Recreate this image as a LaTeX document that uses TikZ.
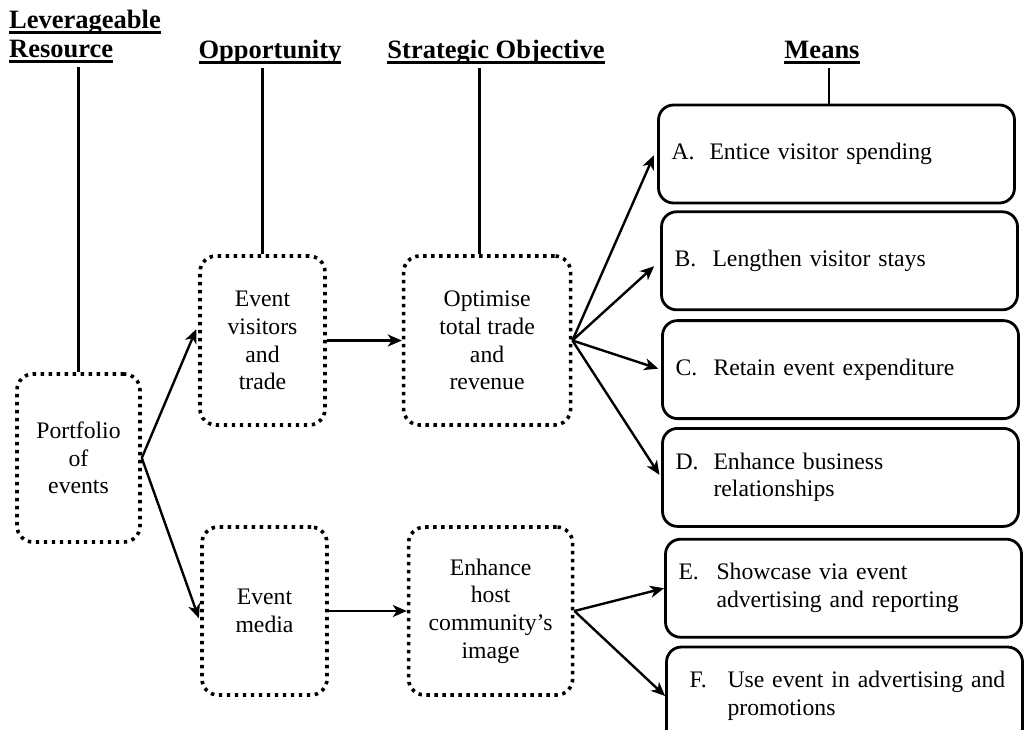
\documentclass[tikz,border=0pt]{standalone}
\usepackage{fontspec}
\setmainfont{Liberation Serif}
\usetikzlibrary{arrows.meta, positioning}
\newcommand{\diagfont}{\fontsize{23.7}{27.7}\selectfont}
\newcommand{\colheadfont}{\fontsize{26.5}{29}\selectfont\bfseries}
\newcommand{\colul}[1]{\setbox0\hbox{#1}\rlap{\copy0}\rule[-6pt]{\wd0}{2.8pt}}
\newcommand{\mitem}[2]{\makebox[38pt][l]{#1}\begin{tabular}[t]{@{}l@{}}#2\end{tabular}}
\tikzset{
  idea/.style    = {rectangle, rounded corners=16pt, draw, line width=3.6pt,
                    dash pattern=on 3.4pt off 4.6pt, align=center, font=\diagfont,
                    inner sep=2pt},
  means/.style   = {rectangle, rounded corners=15pt, draw, line width=2.8pt,
                    text width=330pt, inner xsep=13pt, minimum width=356pt,
                    minimum height=98pt, align=left, font=\diagfont},
  colhead/.style = {font=\colheadfont, inner sep=0pt, anchor=base},
  flow/.style    = {-{Stealth[length=14pt, width=12pt, inset=4pt]}, line width=2.4pt},
  stem/.style    = {line width=2.6pt, shorten <=4pt},
}
\begin{document}
\begin{tikzpicture}[x=1pt, y=-1pt]
  \useasboundingbox (0,0) rectangle (1024,729);
  % column headings
  \node[colhead, anchor=base west] (hlev) at (9,28) {\colul{Leverageable}};
  \node[colhead, anchor=base west] (hres) at (9,57) {\colul{Resource}};
  \node[colhead] (hopp) at (270,58) {\colul{Opportunity}};
  \node[colhead] (hobj) at (496,58) {\colul{Strategic Objective}};
  \node[colhead] (hmea) at (822,58) {\colul{Means}};
  % resource, opportunities, objectives
  \node[idea, minimum width=123pt, minimum height=168pt] (port) at (78.5,458) {Portfolio\\of\\events};
  \node[idea, minimum width=125pt, minimum height=169pt] (evis) at (262.5,340.5) {Event\\visitors\\and\\trade};
  \node[idea, minimum width=167pt, minimum height=169pt, right=75pt of evis] (opt) {Optimise\\total trade\\and\\revenue};
  \node[idea, minimum width=125pt, minimum height=168pt] (emed) at (264.5,611) {Event\\media};
  \node[idea, minimum width=164pt, minimum height=168pt, right=78pt of emed] (host) {Enhance\\host\\community's\\image};
  % means
  \node[means] (ma) at (836.5,154) {\mitem{A.}{Entice visitor spending}};
  \node[means, below=6pt of ma, xshift=3pt] (mb) {\mitem{B.}{Lengthen visitor stays}};
  \node[means, below=8pt of mb, xshift=1pt] (mc) {\mitem{C.}{Retain event expenditure}};
  \node[means, below=7pt of mc] (md) {\mitem{D.}{Enhance business\\relationships}};
  \node[means, below=10pt of md, xshift=3pt] (me) {\mitem{E.}{Showcase via event\\advertising and reporting}};
  \node[means, below=7pt of me, xshift=1pt] (mf) {\hspace*{10pt}\mitem{F.}{Use event in advertising and\\promotions}};
  % stems from the headings
  \coordinate (objtop) at ([xshift=-7.5pt]opt.north);
  \coordinate (meatop) at ([xshift=-7.5pt]ma.north);
  \draw[stem] (hres.south -| port.north) -- (port.north);
  \draw[stem] (hopp.south -| evis.north) -- (evis.north);
  \draw[stem] (hobj.south -| objtop) -- (objtop);
  \draw[stem] (hmea.south -| meatop) -- (meatop);
  % arrows
  \draw[flow, shorten >=5pt] (port.east) -- ([yshift=16pt]evis.west);
  \draw[flow, shorten >=4pt] (port.east) -- ([yshift=-11pt]emed.west);
  \draw[flow] (evis) -- (opt); \draw[flow] (emed) -- (host);
  \draw[flow, shorten >=8pt] (opt.east) -- ([yshift=6pt]ma.west);
  \foreach \m/\s in {mb/8pt, mc/3pt, md/3pt}
    \draw[flow, shorten >=\s] (opt.east) -- (\m.west);
  \draw[flow] (host.east) -- (me.west); \draw[flow] (host.east) -- (mf.west);
\end{tikzpicture}
\end{document}
